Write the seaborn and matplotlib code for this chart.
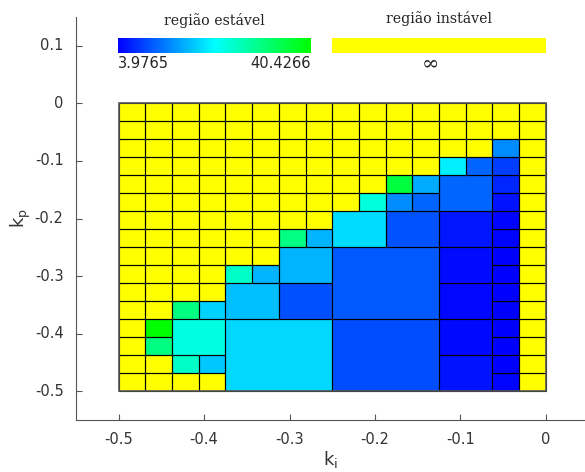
import numpy as np
import matplotlib
matplotlib.use("Agg")
import matplotlib.pyplot as plt
from matplotlib.colors import LinearSegmentedColormap, ListedColormap
from matplotlib.patches import Rectangle
import seaborn as sns

# grade de ganhos (ki x kp), 16 x 16 celulas
ki_min, ki_max = -0.5, 0.0
kp_min, kp_max = -0.5, 0.0
n_cells = 16
vmin, vmax = 3.9765, 40.4266

# blocos estaveis: coluna, linha (de cima p/ baixo), tamanho, valor
block_col = [14, 14, 14, 14, 14, 14, 14, 14, 14, 14, 14, 14, 14, 14,
             12, 13, 12, 12, 12, 12, 12, 12,
             10, 11, 9, 10, 11, 8, 10, 8, 8,
             6, 7, 6, 4, 5, 4, 6, 4,
             2, 3, 1, 1, 2, 2, 3]
block_row = [2, 3, 4, 5, 6, 7, 8, 9, 10, 11, 12, 13, 14, 15,
             3, 3, 4, 6, 8, 10, 12, 14,
             4, 4, 5, 5, 5, 6, 6, 8, 12,
             7, 7, 8, 9, 9, 10, 10, 12,
             11, 11, 12, 13, 12, 14, 14]
block_size = [1, 1, 1, 1, 1, 1, 1, 1, 1, 1, 1, 1, 1, 1,
              1, 1, 2, 2, 2, 2, 2, 2,
              1, 1, 1, 1, 1, 2, 2, 4, 4,
              1, 1, 2, 1, 1, 2, 2, 4,
              1, 1, 1, 1, 2, 1, 1]
block_value = [14.0, 8.5, 6.8, 5.4, 4.3, 4.2, 4.1, 4.0, 4.0, 4.0, 4.0, 4.0, 4.1, 4.2,
               21.1, 11.1, 11.1, 5.6, 4.7, 4.5, 4.6, 5.4,
               35.9, 16.3, 24.7, 14.0, 11.1, 19.7, 9.9, 10.3, 9.5,
               31.1, 16.8, 16.8, 26.1, 16.8, 17.6, 9.7, 19.4,
               31.3, 19.0, 40.4, 31.3, 24.3, 26.1, 18.3]

xticks = [-0.5, -0.4, -0.3, -0.2, -0.1, 0]
yticks = [0.1, 0, -0.1, -0.2, -0.3, -0.4, -0.5]

step = (ki_max - ki_min) / n_cells


def ki_to_col(v):
    return (v - ki_min) / step


def kp_to_row(v):
    return (kp_max - v) / step


grid = np.full((n_cells, n_cells), np.nan)
for c, r, s, v in zip(block_col, block_row, block_size, block_value):
    grid[r:r + s, c:c + s] = v
unstable = np.isnan(grid)

sns.set_style("ticks")
plt.rcParams['font.family'] = ['DejaVu Sans']
plt.rcParams['font.size'] = 10.5

fig = plt.figure(figsize=(5.85, 4.72), dpi=100)
ax = fig.add_axes([76 / 585, 1 - 420 / 472, 1 - 76 / 585, (420 - 17) / 472])

cmap = LinearSegmentedColormap.from_list("estavel", ["#0000ff", "#00ffff", "#00ff00"])
sns.heatmap(np.where(unstable, 1.0, np.nan), cmap=ListedColormap(["#ffff00"]),
            cbar=False, ax=ax)
sns.heatmap(grid, cmap=cmap, vmin=vmin, vmax=vmax, cbar=False, ax=ax)

# contorno das celulas / blocos
for r in range(n_cells):
    for c in range(n_cells):
        if unstable[r, c]:
            ax.add_patch(Rectangle((c, r), 1, 1, fill=False, ec="black", lw=0.8))
for c, r, s in zip(block_col, block_row, block_size):
    ax.add_patch(Rectangle((c, r), s, s, fill=False, ec="black", lw=0.8))
ax.add_patch(Rectangle((0, 0), n_cells, n_cells, fill=False, ec="#555555", lw=1.2))

ax.set_xlim(ki_to_col(-0.55), ki_to_col(0.046))
ax.set_ylim(kp_to_row(-0.55), kp_to_row(0.15))
ax.set_xticks([ki_to_col(t) for t in xticks])
ax.set_xticklabels([f"{t:g}" for t in xticks], rotation=0)
ax.set_yticks([kp_to_row(t) for t in yticks])
ax.set_yticklabels([f"{t:g}" for t in yticks], rotation=0)
for side in ["left", "bottom"]:
    ax.spines[side].set_visible(True)
    ax.spines[side].set_color("#555555")
ax.tick_params(direction="in", length=4, color="#555555", labelcolor="#333333",
               labelsize=10.5, pad=9)
ax.set_xlabel("$\\mathregular{k_i}$", fontsize=13, color="#333333", labelpad=1)
ax.set_ylabel("$\\mathregular{k_p}$", fontsize=13, color="#333333", labelpad=1)

# legenda de cores no topo
cax = fig.add_axes([118 / 585, 1 - 53 / 472, 193 / 585, 15 / 472])
cax.imshow(np.linspace(0, 1, 256)[None, :], cmap=cmap, aspect="auto")
cax.axis("off")
yax = fig.add_axes([332 / 585, 1 - 53 / 472, 214 / 585, 15 / 472])
yax.set_facecolor("#ffff00")
yax.set_xticks([])
yax.set_yticks([])
for s in yax.spines.values():
    s.set_visible(False)

serif = ["DejaVu Serif"]
fig.text(214 / 585, 1 - 21 / 472, "região estável", ha="center", va="center",
         family=serif, fontsize=10.2, color="#222222")
fig.text(439 / 585, 1 - 19 / 472, "região instável", ha="center", va="center",
         family=serif, fontsize=10.2, color="#222222")
fig.text(118 / 585, 1 - 64 / 472, f"{vmin:.4f}", ha="left", va="center", fontsize=10.5)
fig.text(311 / 585, 1 - 64 / 472, f"{vmax:.4f}", ha="right", va="center", fontsize=10.5)
fig.text(430 / 585, 1 - 64 / 472, "∞", ha="center", va="center", family=serif,
         fontsize=15, color="#222222")

fig.savefig("out.png", dpi=100, facecolor="white")
